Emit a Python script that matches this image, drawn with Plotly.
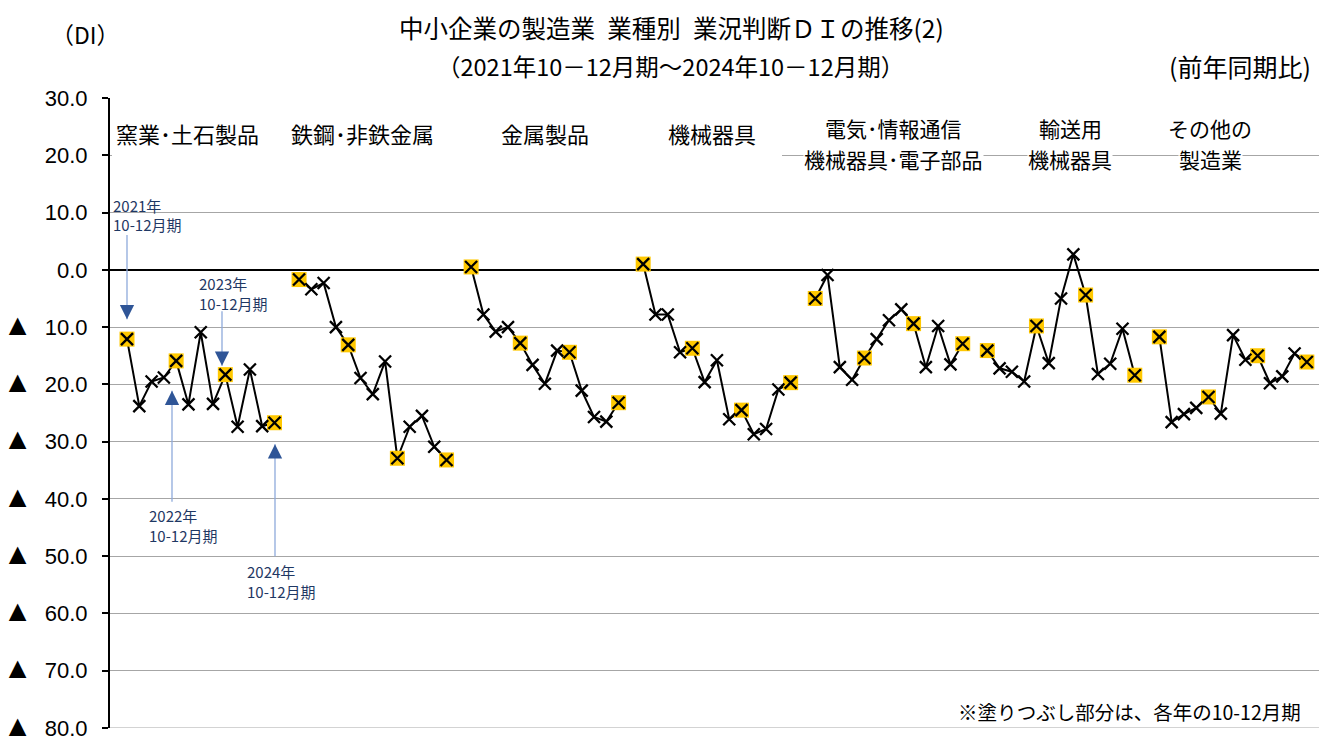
import plotly.graph_objects as go

# Industries (labels drawn above each group; "|" separates label lines)
industries = [
    "窯業･土石製品",
    "鉄鋼･非鉄金属",
    "金属製品",
    "機械器具",
    "電気･情報通信|機械器具･電子部品",
    "輸送用|機械器具",
    "その他の|製造業",
]

# Quarters: 2021 Oct-Dec through 2024 Oct-Dec (13 quarters)
quarters = [
    "2021Q4", "2022Q1", "2022Q2", "2022Q3", "2022Q4",
    "2023Q1", "2023Q2", "2023Q3", "2023Q4",
    "2024Q1", "2024Q2", "2024Q3", "2024Q4",
]
q4_index = [0, 4, 8, 12]

# Business condition DI (year-on-year), one list per industry
di_ceramics = [-12.1, -23.8, -19.5, -18.8, -15.9, -23.5, -10.9, -23.4, -18.3, -27.4, -17.4, -27.3, -26.7]
di_steel = [-1.7, -3.4, -2.3, -10.0, -13.1, -18.9, -21.7, -16.0, -32.9, -27.4, -25.5, -30.9, -33.2]
di_metal_products = [0.5, -7.8, -10.8, -10.0, -12.8, -16.6, -19.9, -14.1, -14.4, -21.1, -25.7, -26.5, -23.2]
di_machinery = [1.0, -7.8, -7.8, -14.4, -13.7, -19.6, -15.8, -26.1, -24.5, -28.7, -27.8, -20.9, -19.7]
di_electrical = [-5.0, -0.9, -17.0, -19.2, -15.4, -12.1, -8.8, -6.9, -9.4, -17.0, -9.8, -16.5, -12.9]
di_transport = [-14.1, -17.2, -17.8, -19.5, -9.8, -16.3, -5.0, 2.7, -4.4, -18.2, -16.4, -10.3, -18.4]
di_other = [-11.7, -26.6, -25.2, -24.1, -22.2, -25.1, -11.4, -15.7, -15.0, -19.8, -18.6, -14.6, -16.1]

series = [di_ceramics, di_steel, di_metal_products, di_machinery,
          di_electrical, di_transport, di_other]

# Y axis ticks: negatives are written with a ▲ prefix
y_ticks = [30, 20, 10, 0, -10, -20, -30, -40, -50, -60, -70, -80]
TRI = "<span style='font-size:30px'>▲</span>  "
y_tick_text = ["30.0", "20.0", "10.0", "0.0"] + [
    TRI + f"{abs(v):.1f}" for v in y_ticks[4:]
]

GROUP_SLOTS = 14          # 13 quarters + 1 blank slot between industries
W, H = 1319, 742
M_L, M_R, M_T, M_B = 110, 0, 98, 9
PLOT_W = W - M_L - M_R
PLOT_H = H - M_T - M_B
JP = "Noto Sans CJK JP"
NAVY = "#1F3864"
YELLOW = "#FFC800"
STEP_PX = 12.29


def px(x):
    """Pixel column -> paper x."""
    return (x - M_L) / PLOT_W


def py(y):
    """Pixel row -> paper y."""
    return (H - M_B - y) / PLOT_H


fig = go.Figure()

for g, (name, vals) in enumerate(zip(industries, series)):
    xs = [g * GROUP_SLOTS + i for i in range(len(quarters))]
    label = name.replace("|", "")
    fig.add_trace(go.Scatter(
        x=xs, y=vals, mode="lines", name=label,
        line=dict(color="black", width=2), hoverinfo="skip", showlegend=False,
    ))
    fig.add_trace(go.Scatter(
        x=[xs[i] for i in q4_index], y=[vals[i] for i in q4_index],
        mode="markers", name=label + " 10-12月期",
        marker=dict(symbol="square", size=15, color=YELLOW, line=dict(width=0)),
        showlegend=False,
    ))
    fig.add_trace(go.Scatter(
        x=xs, y=vals, mode="markers", name=label,
        text=quarters,
        marker=dict(symbol="x-thin", size=12, color="black",
                    line=dict(color="black", width=2.3)),
        showlegend=False,
    ))

annotations = []

# Industry labels (one annotation per line; white box hides the gridline)
label_px = [187, 362, 545, 712, 893, 1070, 1210]
for name, cx in zip(industries, label_px):
    lines = name.split("|")
    if len(lines) == 1:
        rows, size = [133], 22
    else:
        rows, size = [128, 159], 21
    for text, row in zip(lines, rows):
        annotations.append(dict(
            text=text, xref="paper", yref="paper",
            x=px(cx), y=py(row),
            showarrow=False, xanchor="center", yanchor="middle",
            font=dict(family=JP, size=size, color="black"),
            bgcolor="white", borderpad=0,
        ))

# Quarter call-outs
callouts = [
    ("2021年", 111, 206), ("10-12月期", 111, 226),
    ("2023年", 197, 285), ("10-12月期", 197, 305),
    ("2022年", 147, 519), ("10-12月期", 147, 539),
    ("2024年", 245, 575), ("10-12月期", 245, 595),
]
for t, lx, ly in callouts:
    annotations.append(dict(
        text=t, xref="paper", yref="paper", x=px(lx), y=py(ly),
        showarrow=False, xanchor="left", yanchor="middle",
        font=dict(family=JP, size=15, color=NAVY),
    ))

# Arrows: (x, tail y, tip y) in pixels
arrows = [(127, 236, 321), (222, 313, 368), (172, 505, 393), (275, 560, 447)]
shapes = []
for ax_, tail, tip in arrows:
    shapes.append(dict(
        type="line", xref="paper", yref="paper",
        x0=px(ax_), x1=px(ax_), y0=py(tail), y1=py(tip),
        line=dict(color="#8EAADB", width=1.3), layer="above",
    ))
    annotations.append(dict(
        text="", xref="paper", yref="paper", x=px(ax_), y=py(tip),
        showarrow=True, ax=0, ay=(-14 if tail < tip else 14),
        arrowhead=2, arrowsize=1.9, arrowwidth=1.5, arrowcolor="#2F5597",
    ))

# Hide the 20.0 gridline behind the first four labels
shapes.append(dict(
    type="rect", xref="paper", yref="paper",
    x0=px(112), x1=px(782), y0=py(160), y1=py(152),
    fillcolor="white", line=dict(width=0), layer="above",
))

# Bottom gridline at -80
shapes.append(dict(
    type="line", xref="paper", yref="y", x0=0, x1=1, y0=-80, y1=-80,
    line=dict(color="#A6A6A6", width=1), layer="below",
))

# Titles and notes
annotations += [
    dict(text="中小企業の製造業\u2002業種別\u2002業況判断ＤＩの推移(2)", xref="paper", yref="paper",
         x=px(671), y=py(27), showarrow=False, xanchor="center", yanchor="middle",
         font=dict(family=JP, size=24.5, color="black")),
    dict(text="（2021年10－12月期～2024年10－12月期）", xref="paper", yref="paper",
         x=px(670), y=py(66), showarrow=False, xanchor="center", yanchor="middle",
         font=dict(family=JP, size=23.5, color="black")),
    dict(text="（DI）", xref="paper", yref="paper",
         x=px(85), y=py(33), showarrow=False, xanchor="center", yanchor="middle",
         font=dict(family=JP, size=23, color="black")),
    dict(text="(前年同期比)", xref="paper", yref="paper",
         x=px(1313), y=py(66), showarrow=False, xanchor="right", yanchor="middle",
         font=dict(family=JP, size=25, color="black")),
    dict(text="※塗りつぶし部分は、各年の10-12月期", xref="paper", yref="paper",
         x=px(1303), y=py(716), showarrow=False, xanchor="right", yanchor="middle",
         font=dict(family=JP, size=19.5, color="black")),
]

x_left = -(127 - M_L) / STEP_PX
x_right = x_left + PLOT_W / STEP_PX

fig.update_layout(
    width=W, height=H,
    margin=dict(l=M_L, r=M_R, t=M_T, b=M_B),
    paper_bgcolor="white", plot_bgcolor="white",
    showlegend=False,
    annotations=annotations,
    shapes=shapes,
    xaxis=dict(range=[x_left, x_right], visible=False, showgrid=False, zeroline=False),
    yaxis=dict(
        range=[-80, 30], tickvals=y_ticks, ticktext=y_tick_text,
        showgrid=True, gridcolor="#A6A6A6", gridwidth=1,
        zeroline=True, zerolinecolor="black", zerolinewidth=2,
        showline=True, linecolor="black", linewidth=2,
        ticks="outside", ticklen=6, tickcolor="black", tickwidth=2,
        tickfont=dict(family="Liberation Sans", size=22, color="black"),
        ticklabelstandoff=10, ticklabeloverflow="allow",
    ),
)

fig.write_html("out.html")
